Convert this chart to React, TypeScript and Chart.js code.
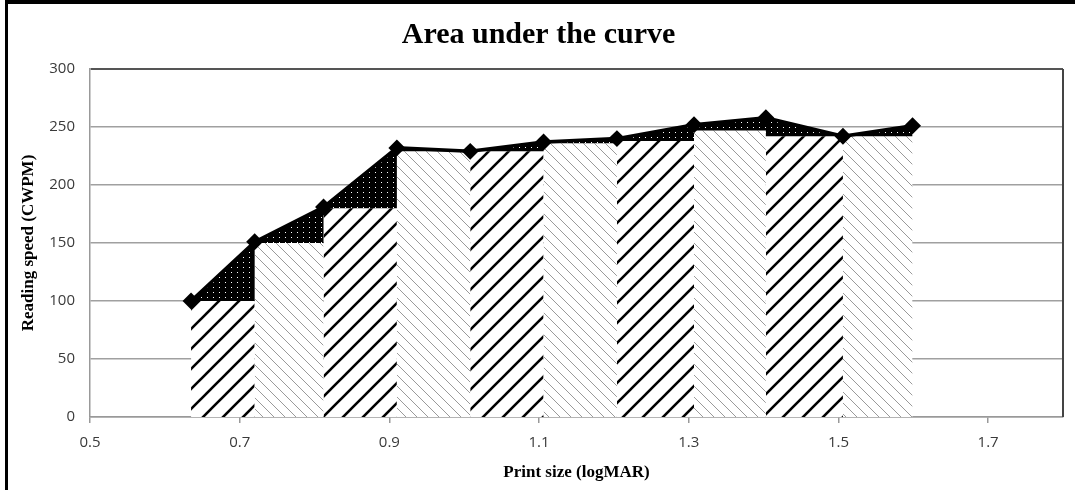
import React, { useEffect, useRef } from "react";
import { Chart, registerables } from "chart.js";

Chart.register(...registerables);

// Data
const printSize = [0.635, 0.72, 0.812, 0.91, 1.008, 1.106, 1.204, 1.307, 1.403, 1.506, 1.599];
const readingSpeed = [100, 151, 181, 232, 229, 237, 240, 252, 258, 242, 251];
const barHeights = [100, 150, 180, 229, 229, 236, 238, 247, 242, 242];
const xTickValues = [0.5, 0.7, 0.9, 1.1, 1.3, 1.5, 1.7];
const yTickValues = [0, 50, 100, 150, 200, 250, 300];

const TITLE = "Area under the curve";
const X_TITLE = "Print size (logMAR)";
const Y_TITLE = "Reading speed (CWPM)";

function makeHatch(size: number, color: string, width: number, dir: "/" | "\\"): CanvasPattern {
  const c = document.createElement("canvas");
  c.width = size;
  c.height = size;
  const g = c.getContext("2d")!;
  g.fillStyle = "#fff";
  g.fillRect(0, 0, size, size);
  g.strokeStyle = color;
  g.lineWidth = width;
  g.lineCap = "square";
  for (let k = -1; k <= 1; k++) {
    g.beginPath();
    if (dir === "/") {
      g.moveTo(k * size, size);
      g.lineTo(k * size + size, 0);
    } else {
      g.moveTo(k * size, 0);
      g.lineTo(k * size + size, size);
    }
    g.stroke();
  }
  return g.createPattern(c, "repeat")!;
}

function makeDots(): CanvasPattern {
  const c = document.createElement("canvas");
  c.width = 6;
  c.height = 5;
  const g = c.getContext("2d")!;
  g.fillStyle = "#000";
  g.fillRect(0, 0, 6, 5);
  g.fillStyle = "#fff";
  g.fillRect(3, 2, 1, 1);
  return g.createPattern(c, "repeat")!;
}

const framePlugin = {
  id: "frame",
  afterDraw(chart: any) {
    const { ctx, chartArea: a } = chart;
    ctx.save();
    ctx.strokeStyle = "#444";
    ctx.lineWidth = 2;
    ctx.beginPath();
    ctx.moveTo(a.right, a.top);
    ctx.lineTo(a.right, a.bottom);
    ctx.stroke();
    ctx.fillStyle = "#000";
    ctx.fillRect(5, 0, 3, chart.height);
    ctx.fillRect(5, 0, chart.width - 5, 4);
    ctx.restore();
  },
};

export default function App() {
  const ref = useRef<HTMLCanvasElement | null>(null);

  useEffect(() => {
    if (!ref.current) return;
    const dark = makeHatch(20, "#000", 2.6, "/");
    const light = makeHatch(11, "#9a9a9a", 1, "\\");
    const dots = makeDots();

    const barDatasets = barHeights.map((h, i) => ({
      type: "line" as const,
      data: [
        { x: printSize[i], y: h },
        { x: printSize[i + 1], y: h },
      ],
      borderWidth: 0,
      borderColor: "transparent",
      backgroundColor: i % 2 === 0 ? dark : light,
      pointRadius: 0,
      fill: "origin",
    }));

    const topsData = barHeights.map((h, i) => ({ x: printSize[i], y: h }));
    topsData.push({ x: printSize[printSize.length - 1], y: barHeights[barHeights.length - 1] });

    const chart = new Chart(ref.current, {
      type: "scatter",
      data: {
        datasets: [
          {
            type: "line",
            data: printSize.map((x, i) => ({ x, y: readingSpeed[i] })),
            borderColor: "#000",
            borderWidth: 3.5,
            backgroundColor: dots,
            fill: 1,
            pointStyle: "rectRot",
            pointRadius: 6,
            pointBackgroundColor: "#000",
            pointBorderColor: "#000",
            tension: 0,
          } as any,
          {
            type: "line",
            data: topsData,
            borderWidth: 0,
            borderColor: "transparent",
            pointRadius: 0,
            stepped: true,
            fill: false,
          } as any,
          ...(barDatasets as any[]),
        ],
      },
      plugins: [framePlugin],
      options: {
        animation: false,
        responsive: false,
        layout: { padding: { left: 14, right: 12, top: 0, bottom: 5 } },
        plugins: {
          legend: { display: false },
          tooltip: { enabled: false },
          title: {
            display: true,
            text: TITLE,
            color: "#000",
            font: { family: "Liberation Serif", size: 30, weight: "bold", lineHeight: 1.2 },
            padding: { top: 17, bottom: 16 },
          },
        },
        scales: {
          x: {
            type: "linear",
            min: 0.5,
            max: 1.8,
            afterBuildTicks: (s: any) => {
              s.ticks = xTickValues.map((v) => ({ value: v }));
            },
            ticks: {
              color: "#3a3a3a",
              font: { family: "Open Sans", size: 15 },
              padding: 11,
              maxRotation: 0,
              callback: (v: any) => Number(v).toFixed(1),
            },
            grid: { drawOnChartArea: false, tickLength: 6, color: "#999", lineWidth: 1.5 },
            border: { color: "#999", width: 1.5 },
            title: {
              display: true,
              text: X_TITLE,
              color: "#000",
              font: { family: "Liberation Serif", size: 17, weight: "bold" },
              padding: { top: 4, bottom: 2 },
            },
            afterFit: (s: any) => {
              s.height = 68;
            },
          },
          y: {
            type: "linear",
            min: 0,
            max: 300,
            afterBuildTicks: (s: any) => {
              s.ticks = yTickValues.map((v) => ({ value: v }));
            },
            ticks: {
              color: "#3a3a3a",
              font: { family: "Open Sans", size: 15 },
              padding: 15,
            },
            grid: {
              drawTicks: false,
              color: (c: any) => (c.tick && c.tick.value === 300 ? "#555" : "#a0a0a0"),
              lineWidth: (c: any) => (c.tick && c.tick.value === 300 ? 2 : 1.5),
            },
            border: { color: "#999", width: 1.5 },
            title: {
              display: true,
              text: Y_TITLE,
              color: "#000",
              font: { family: "Liberation Serif", size: 17, weight: "bold" },
              padding: { top: 4, bottom: 4 },
            },
            afterFit: (s: any) => {
              s.width = 76;
            },
          },
        },
      } as any,
    });
    return () => chart.destroy();
  }, []);

  return (
    <div style={{ position: "absolute", left: 0, top: 0, width: 1075, height: 490, background: "#fff" }}>
      <canvas ref={ref} width={1075} height={490} style={{ display: "block" }} />
    </div>
  );
}
